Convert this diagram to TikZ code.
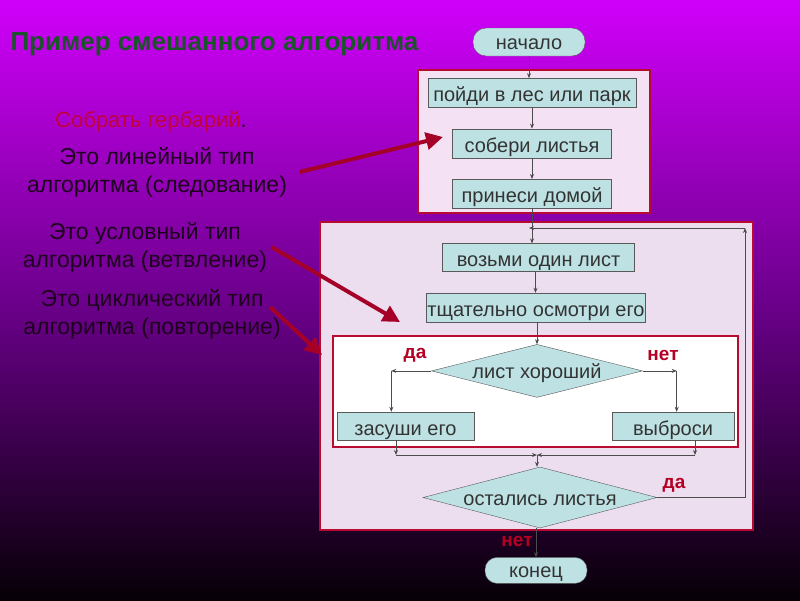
\documentclass[tikz,border=0pt]{standalone}
\usepackage{fontspec}
\setmainfont{Liberation Sans}
\usepackage{tikz}
\usetikzlibrary{arrows.meta}
\usetikzlibrary{positioning}
\usetikzlibrary{shapes.geometric}

\definecolor{boxfill}{RGB}{190,226,228}
\definecolor{linfill}{RGB}{244,226,244}
\definecolor{loopfill}{RGB}{236,222,238}
\definecolor{frame}{RGB}{185,10,50}
\definecolor{pointred}{RGB}{165,0,40}
\definecolor{labred}{RGB}{180,0,35}
\definecolor{taskred}{RGB}{195,0,60}
\definecolor{titlegreen}{RGB}{25,85,40}
\definecolor{darktext}{RGB}{30,0,30}

\begin{document}
\begin{tikzpicture}[
          x=1pt, y=1pt,
          ->, >={Stealth[length=5pt,width=4pt]},
          every node/.style={font=\fontsize{20}{24}\selectfont}
        ]

          % styles
          \tikzstyle{box}=[rectangle, draw=black!65, fill=boxfill, thin, minimum height=29pt, text=black!80, inner sep=1pt, text height=18pt, text depth=0pt]
          \tikzstyle{term}=[rectangle, rounded corners=13pt, draw=black!65, fill=boxfill, thin, minimum height=28pt, text=black!80, inner sep=1pt, text height=16pt, text depth=1pt]
          \tikzstyle{cond}=[diamond, aspect=4, draw=black!65, fill=boxfill, thin, inner sep=1pt, text=black!80, text height=15pt, text depth=0pt]
          \tikzstyle{region}=[rectangle, draw=frame, line width=1.6pt]
          \tikzstyle{flow}=[draw=black!70, line width=0.7pt]
          \tikzstyle{pointer}=[-{Triangle[length=17pt,width=17pt]}, draw=pointred, line width=4pt]
          \tikzstyle{answer}=[text=labred, font=\bfseries\fontsize{19}{22}\selectfont]
          \tikzstyle{note}=[align=center, text=darktext, font=\fontsize{23}{28}\selectfont]

          % background
          \useasboundingbox (0,0) rectangle (800,-600);
          \shade[top color={rgb,255:red,208;green,0;blue,250}, bottom color={rgb,255:red,6;green,0;blue,6}, middle color={rgb,255:red,108;green,0;blue,140}]
            (0,0) rectangle (800,-600);

          % titles and notes
          \node[anchor=west, text=titlegreen, font=\bfseries\fontsize{26}{30}\selectfont] (title) at (7,-44) {Пример смешанного алгоритма};
          \node[font=\fontsize{22}{26}\selectfont] (task) at (151,-122) {\textcolor{taskred}{Собрать гербарий}\textcolor{darktext}{.}};
          \node[note] (lintext) at (157,-172) {Это линейный тип\\алгоритма (следование)};
          \node[note] (condtext) at (145,-247) {Это условный тип\\алгоритма (ветвление)};
          \node[note] (cyctext) at (152,-314) {Это циклический тип\\алгоритма (повторение)};

          % framed regions
          \node[region, fill=linfill, minimum width=232pt, minimum height=143pt] (linreg) at (534,-141.5) {};
          \node[region, fill=loopfill, minimum width=433pt, minimum height=308pt] (loopreg) at (536.5,-376) {};
          \node[region, fill=white, minimum width=405pt, minimum height=111pt] (condreg) at (535.5,-391.5) {};

          % steps
          \node[term, minimum width=112pt] (start) at (529,-42) {начало};
          \node[box, minimum width=208pt, below=22pt of start, xshift=3pt] (go) {пойди в лес или парк};
          \node[box, minimum width=159pt, below=21pt of go] (collect) {собери листья};
          \node[box, minimum width=159pt, below=21pt of collect] (bring) {принеси домой};
          \node[box, minimum width=192pt, minimum height=28pt, below=35pt of bring, xshift=6.5pt] (take) {возьми один лист};
          \node[box, minimum width=217pt, below=21pt of take, xshift=-2.5pt] (inspect) {тщательно осмотри его};
          \node[cond, minimum width=211pt, minimum height=53pt, below=22pt of inspect, xshift=1pt] (good) {лист хороший};
          \node[box, minimum width=137pt, minimum height=28pt] (dry) at (405.5,-426) {засуши его};
          \node[box, minimum width=122pt, minimum height=28pt] (bin) at (673,-426) {выброси};
          \node[cond, minimum width=234pt, minimum height=61pt] (check) at (540,-497.5) {остались листья};
          \node[term, minimum width=102pt, minimum height=26pt, rounded corners=12pt, below=29pt of check, xshift=-4pt] (finish) {конец};

          % answers
          \node[answer] (yes1) at (415,-355) {да};
          \node[answer] (no1) at (663,-355) {нет};
          \node[answer] (yes2) at (674,-485) {да};
          \node[answer] (no2) at (517,-541) {нет};

          % bend points
          \coordinate (yescorner) at ([xshift=-40pt]good.west);
          \coordinate (nocorner) at ([xshift=34pt]good.east);
          \coordinate (ljoin) at (396,-455);
          \coordinate (rjoin) at (695,-455);
          \coordinate (merge) at (537,-455);
          \coordinate (up) at (745,-228);
          \coordinate (back) at (529,-228);

          % edges
          \draw[flow] (start) -- (start |- go.north);
          \draw[flow] (go.south -| collect) -- (collect);
          \draw[flow] (collect) -- (bring);
          \draw[flow] (bring) -- (bring |- take.north);
          \draw[flow] ([xshift=-3pt]take.south) -- ([xshift=-3pt]take.south |- inspect.north);
          \draw[flow] (inspect.south -| good) -- (good);
          \draw[flow] (good.west) -- (yescorner);                  % да
          \draw[flow] (yescorner) -- (yescorner |- dry.north);
          \draw[flow] (good.east) -- (nocorner);                   % нет
          \draw[flow] (nocorner) -- (nocorner |- bin.north);
          \draw[flow] (dry.south -| ljoin) -- (ljoin);
          \draw[flow] (ljoin) -- (merge);
          \draw[flow] (bin.south -| rjoin) -- (rjoin);
          \draw[flow] (rjoin) -- (merge);
          \draw[flow] (merge) -- (merge |- check.north);
          \draw[flow] (check.east) -| (up);                        % repeat
          \draw[flow] (up) -- (back);
          \draw[flow] (check.south -| finish) -- (finish);

          % pointers
          \draw[pointer] ([xshift=9pt]lintext.east) -- (443,-137);
          \draw[pointer] ([xshift=1pt]condtext.east) -- (400,-322);
          \draw[pointer] ([xshift=-14pt,yshift=7pt]cyctext.east) -- (322,-355);

        \end{tikzpicture}
\end{document}
